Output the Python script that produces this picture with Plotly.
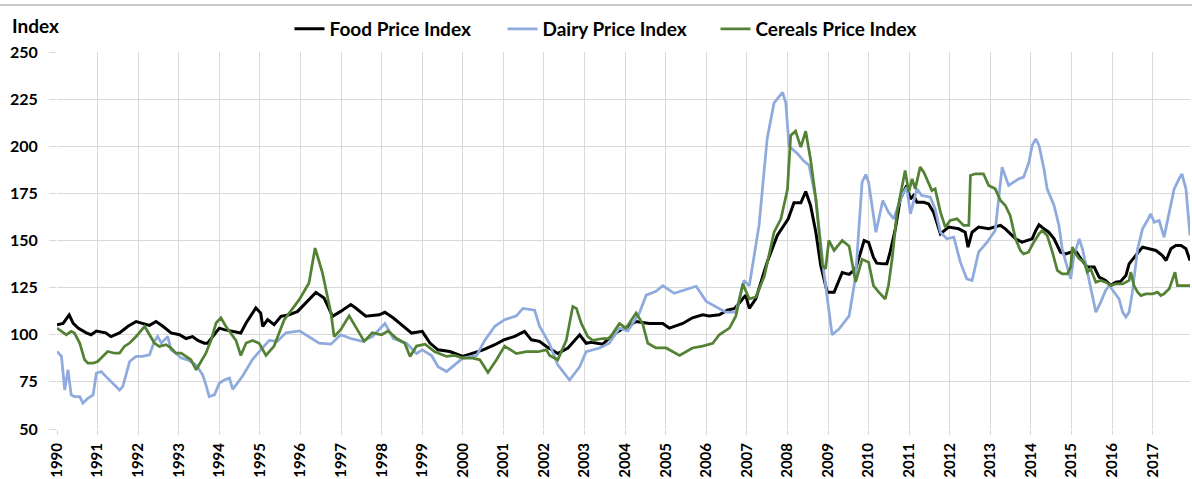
import plotly.graph_objects as go

# time in decimal years
food_t = [1990.0, 1990.15, 1990.3, 1990.4, 1990.52, 1990.72, 1990.84, 1990.97, 1991.2, 1991.33,
          1991.54, 1991.75, 1991.95, 1992.11, 1992.28, 1992.44, 1992.61, 1992.81, 1993.02, 1993.18,
          1993.34, 1993.47, 1993.63, 1993.71, 1993.84, 1994.0, 1994.12, 1994.33, 1994.53, 1994.66,
          1994.9, 1995.02, 1995.07, 1995.19, 1995.35, 1995.52, 1995.72, 1995.93, 1996.13, 1996.38,
          1996.58, 1996.79, 1996.99, 1997.24, 1997.36, 1997.61, 1997.94, 1998.08, 1998.29, 1998.53,
          1998.74, 1999.0, 1999.19, 1999.39, 1999.68, 2000.0, 2000.25, 2000.5, 2000.79, 2001.01,
          2001.28, 2001.52, 2001.69, 2001.89, 2002.06, 2002.34, 2002.59, 2002.88, 2003.04, 2003.16,
          2003.45, 2003.7, 2003.9, 2004.0, 2004.27, 2004.6, 2004.93, 2005.09, 2005.42, 2005.66,
          2005.91, 2006.07, 2006.32, 2006.52, 2006.7, 2006.97, 2007.06, 2007.22, 2007.5, 2007.75,
          2008.02, 2008.16, 2008.33, 2008.45, 2008.57, 2008.7, 2008.82, 2008.98, 2009.15, 2009.35,
          2009.52, 2009.68, 2009.89, 2010.0, 2010.12, 2010.2, 2010.37, 2010.45, 2010.53, 2010.66,
          2010.78, 2010.9, 2010.94, 2011.03, 2011.11, 2011.19, 2011.36, 2011.48, 2011.6, 2011.68,
          2011.77, 2011.97, 2012.22, 2012.38, 2012.45, 2012.55, 2012.71, 2012.96, 2013.25, 2013.37,
          2013.62, 2013.78, 2014.03, 2014.12, 2014.2, 2014.32, 2014.44, 2014.57, 2014.73, 2014.86,
          2014.98, 2015.1, 2015.23, 2015.39, 2015.56, 2015.68, 2015.84, 2015.97, 2016.09, 2016.21,
          2016.34, 2016.42, 2016.58, 2016.75, 2016.91, 2017.08, 2017.24, 2017.33, 2017.45, 2017.57,
          2017.7, 2017.82, 2017.92]
food_v = [105.3, 106, 110.5, 106, 103.5, 101, 100, 102, 101, 99,
          101, 104.5, 107, 106, 105, 107, 104.5, 101, 100, 98,
          99, 97, 95.5, 95.5, 99, 103.5, 102.7, 101.8, 100.9, 106.2,
          114.2, 111.5, 104.4, 108, 105.3, 109.8, 110.6, 112.4, 116.8, 122.5,
          119.5, 109.8, 112.4, 116, 114.2, 109.8, 110.6, 111.9, 108.9, 104.4,
          100.9, 101.8, 95.6, 92, 91.1, 88.5, 90.2, 92, 94.7, 97.3,
          99.1, 101.8, 97.3, 96.5, 93.8, 90, 93, 100, 95.5, 96,
          95, 100, 102.7, 103.5, 107, 106, 106, 103.5, 106, 109,
          110.6, 110, 110.6, 113, 114, 121, 114, 119, 138.5, 152.7,
          161.5, 170, 170, 176, 168.6, 154.4, 136.8, 122.6, 122.6, 133,
          132, 135, 150, 149, 141, 138, 137.6, 137.6, 143.8, 156.2,
          172, 177.4, 179.2, 172, 173.9, 170.3, 170.3, 169.4, 165, 159.7,
          153.5, 157.1, 156.2, 154.4, 146.5, 154.4, 157.1, 156.2, 158, 156.2,
          150.9, 149.1, 150.9, 155.3, 158.3, 156.2, 154.4, 150.9, 143.8, 142.9,
          143.8, 144.7, 140.3, 135.9, 135.9, 130.6, 128.8, 126.1, 127.9, 128.3,
          131.4, 137.6, 142, 146.5, 145.6, 144.7, 142, 139.4, 145.6, 147.3,
          147.3, 145.6, 139.4]

dairy_t = [1990.0, 1990.11, 1990.19, 1990.27, 1990.35, 1990.43, 1990.56, 1990.64, 1990.76, 1990.89,
           1990.97, 1991.09, 1991.21, 1991.34, 1991.42, 1991.54, 1991.62, 1991.79, 1991.95, 1992.11,
           1992.28, 1992.4, 1992.48, 1992.57, 1992.65, 1992.73, 1992.81, 1992.93, 1993.06, 1993.22,
           1993.43, 1993.59, 1993.67, 1993.75, 1993.88, 1994.0, 1994.12, 1994.25, 1994.33, 1994.57,
           1994.82, 1995.02, 1995.23, 1995.43, 1995.64, 1995.98, 1996.21, 1996.46, 1996.75, 1996.99,
           1997.24, 1997.52, 1997.77, 1998.0, 1998.08, 1998.29, 1998.61, 1998.86, 1999.0, 1999.23,
           1999.39, 1999.6, 2000.0, 2000.34, 2000.54, 2000.79, 2001.03, 2001.32, 2001.48, 2001.77,
           2001.89, 2002.14, 2002.34, 2002.63, 2002.88, 2003.04, 2003.37, 2003.61, 2003.86, 2004.07,
           2004.35, 2004.52, 2004.76, 2004.93, 2005.21, 2005.5, 2005.75, 2006.0, 2006.24, 2006.48,
           2006.73, 2006.93, 2007.06, 2007.3, 2007.5, 2007.67, 2007.88, 2007.96, 2008.04, 2008.25,
           2008.41, 2008.53, 2008.7, 2008.9, 2009.1, 2009.27, 2009.52, 2009.68, 2009.84, 2009.93,
           2010.0, 2010.18, 2010.35, 2010.49, 2010.62, 2010.82, 2010.94, 2011.03, 2011.19, 2011.31,
           2011.52, 2011.64, 2011.77, 2011.93, 2012.1, 2012.26, 2012.42, 2012.55, 2012.71, 2012.92,
           2013.12, 2013.29, 2013.45, 2013.7, 2013.82, 2013.95, 2014.03, 2014.12, 2014.2, 2014.32,
           2014.4, 2014.49, 2014.57, 2014.69, 2014.77, 2014.86, 2014.94, 2014.98, 2015.06, 2015.19,
           2015.27, 2015.39, 2015.51, 2015.6, 2015.72, 2015.84, 2015.93, 2016.05, 2016.17, 2016.26,
           2016.34, 2016.42, 2016.5, 2016.63, 2016.75, 2016.87, 2016.95, 2017.04, 2017.16, 2017.28,
           2017.41, 2017.53, 2017.65, 2017.72, 2017.82, 2017.88, 2017.92]
dairy_v = [91.1, 88.5, 70.7, 81.4, 68.1, 67.2, 67.2, 63.7, 66.3, 68.1,
           79.6, 80.5, 77.8, 75.2, 73.4, 70.7, 72.5, 85.8, 88.5, 88.5,
           89.4, 96.5, 99.1, 95.6, 97.3, 99.1, 92, 90.2, 87.6, 86.7,
           84, 78.7, 73.4, 67.2, 68.1, 74.3, 76, 77, 71, 78,
           87, 92, 97, 96.5, 101, 102, 99, 95.5, 95, 100,
           98, 96.5, 99, 104.5, 106, 98, 95.5, 90, 92, 89,
           83, 80.5, 87.6, 89, 97, 104.5, 108, 110, 114, 113,
           104.5, 95, 84, 76, 83, 91, 93, 95.5, 103.5, 102,
           111.5, 121, 123, 126, 122, 124, 125.7, 117.7, 115, 112,
           112, 128.8, 126, 158, 204, 223, 228.6, 223, 200, 196,
           192, 190, 172, 133, 100, 103, 110, 131, 181, 185,
           180.9, 154.4, 171.2, 165, 161.5, 173.9, 178.3, 164.1, 177.4, 173.9,
           173, 166.8, 154.4, 150.9, 151.8, 138.5, 129.7, 128.8, 143.8, 149.1,
           155.3, 188.9, 179.2, 182.7, 183.6, 191.5, 200.4, 203.9, 200.4, 188,
           177.4, 173, 168.6, 158, 145.6, 138.5, 133.2, 129.7, 142, 150.9,
           145.6, 133.2, 120.8, 112, 117.3, 123.5, 126.1, 122.6, 119.1, 112,
           109.4, 112, 122.6, 145.6, 156.2, 160.6, 164.1, 159.7, 160.6, 151.8,
           165, 177.4, 182.7, 185.3, 177.4, 163.3, 152.7]

cereals_t = [1990.0, 1990.11, 1990.23, 1990.35, 1990.43, 1990.56, 1990.68, 1990.76, 1990.89, 1991.0,
             1991.13, 1991.25, 1991.42, 1991.54, 1991.66, 1991.79, 1991.95, 1992.03, 1992.16, 1992.28,
             1992.4, 1992.52, 1992.69, 1992.81, 1992.93, 1993.06, 1993.18, 1993.3, 1993.43, 1993.55,
             1993.67, 1993.8, 1993.92, 1994.04, 1994.16, 1994.41, 1994.53, 1994.66, 1994.82, 1994.98,
             1995.15, 1995.35, 1995.6, 1995.97, 1996.21, 1996.36, 1996.54, 1996.75, 1996.83, 1996.99,
             1997.2, 1997.4, 1997.57, 1997.77, 1998.0, 1998.16, 1998.37, 1998.57, 1998.7, 1998.86,
             1999.07, 1999.31, 1999.6, 1999.8, 2000.0, 2000.25, 2000.42, 2000.62, 2000.83, 2001.03,
             2001.32, 2001.57, 2001.85, 2002.06, 2002.14, 2002.34, 2002.55, 2002.71, 2002.8, 2002.92,
             2003.08, 2003.2, 2003.45, 2003.61, 2003.86, 2004.02, 2004.27, 2004.43, 2004.56, 2004.76,
             2005.01, 2005.34, 2005.66, 2005.91, 2006.16, 2006.32, 2006.57, 2006.73, 2006.9, 2007.06,
             2007.22, 2007.43, 2007.67, 2007.84, 2008.0, 2008.08, 2008.2, 2008.33, 2008.45, 2008.57,
             2008.7, 2008.86, 2008.94, 2009.02, 2009.15, 2009.35, 2009.52, 2009.68, 2009.84, 2010.0,
             2010.12, 2010.25, 2010.41, 2010.49, 2010.58, 2010.7, 2010.78, 2010.9, 2010.99, 2011.07,
             2011.15, 2011.27, 2011.36, 2011.48, 2011.56, 2011.64, 2011.77, 2011.89, 2012.01, 2012.18,
             2012.34, 2012.47, 2012.51, 2012.63, 2012.83, 2012.96, 2013.12, 2013.25, 2013.37, 2013.49,
             2013.62, 2013.74, 2013.82, 2013.94, 2014.07, 2014.2, 2014.28, 2014.4, 2014.53, 2014.65,
             2014.77, 2014.9, 2014.98, 2015.02, 2015.1, 2015.19, 2015.31, 2015.39, 2015.47, 2015.6,
             2015.72, 2015.84, 2015.97, 2016.09, 2016.26, 2016.42, 2016.46, 2016.54, 2016.63, 2016.71,
             2016.83, 2017.0, 2017.12, 2017.2, 2017.28, 2017.41, 2017.49, 2017.55, 2017.61, 2017.74,
             2017.92]
cereals_v = [103.5, 101.8, 100, 101.8, 100.9, 95.6, 86.7, 84.9, 84.9, 85.8,
             88.5, 91.1, 90.2, 90.2, 93.8, 95.6, 99.1, 100.9, 104.4, 100,
             95.6, 93.8, 94.7, 92.9, 90.2, 90.2, 88.5, 86.7, 81.4, 85.8,
             90.2, 97.3, 106.2, 109, 104.5, 97, 89, 95.6, 97, 95.5,
             89, 94, 108, 118.6, 127.5, 146, 133, 111.5, 99, 102.7,
             110, 102.7, 96.5, 101, 100, 102, 98, 95.5, 88.5, 94,
             95, 91, 88.5, 89, 87.6, 87.6, 86.7, 80, 86.7, 94,
             90, 91, 91, 92, 89, 86.7, 97, 115, 114, 106,
             99, 97, 98, 98, 106, 103.5, 111.5, 106, 95.5, 93,
             93, 89, 93, 94, 95.5, 100, 103.5, 110, 127, 119,
             120, 131, 154.4, 161.5, 177, 205.7, 208, 199.5, 208, 193,
             172, 136.8, 135, 150, 144.7, 150, 147, 128, 140, 138.5,
             126.1, 122.6, 119, 126.1, 140.3, 164.9, 173.9, 187.1, 175.7, 182.7,
             177.4, 188.9, 186.2, 180, 176.5, 177.4, 165, 157.1, 160.6, 161.5,
             158, 158, 184.5, 185.4, 185.4, 179.2, 177.4, 171.2, 168.6, 163.2,
             150.9, 144.7, 142.9, 143.8, 149.1, 153.5, 155.3, 152.7, 143.8, 134.1,
             132.3, 132.3, 135.9, 146.5, 142.9, 140.3, 138.5, 133.2, 135, 127.9,
             128.8, 127.9, 126.1, 127, 127, 128.8, 133.2, 126.1, 122.6, 120.8,
             121.7, 121.7, 122.6, 120.8, 121.7, 124.4, 129.7, 133.2, 126.1, 126.1,
             126.1]

years = list(range(1990, 2018))

font_name = "Lato"
grid_col = "#d9d9d9"

fig = go.Figure()
fig.add_trace(go.Scatter(x=food_t, y=food_v, mode="lines", name="Food Price Index",
                         line=dict(color="#000000", width=3)))
fig.add_trace(go.Scatter(x=dairy_t, y=dairy_v, mode="lines", name="Dairy Price Index",
                         line=dict(color="#8FAADC", width=2.75)))
fig.add_trace(go.Scatter(x=cereals_t, y=cereals_v, mode="lines", name="Cereals Price Index",
                         line=dict(color="#548235", width=2.75)))

fig.update_layout(
    width=1192,
    height=479,
    margin=dict(l=57, r=2, t=52, b=50),
    plot_bgcolor="white",
    paper_bgcolor="white",
    font=dict(family=font_name, size=16, color="#000000"),
    showlegend=True,
    legend=dict(orientation="h", x=(609 - 57) / 1133, xanchor="center", y=1.061, yanchor="middle",
                font=dict(family=font_name, size=19, color="#000000", weight="bold"),
                bgcolor="rgba(0,0,0,0)", itemwidth=30, entrywidth=168),
)

fig.update_xaxes(
    range=[1990, 2017.92],
    tickmode="array",
    tickvals=years,
    ticktext=[str(y) for y in years],
    tickangle=-90,
    tickfont=dict(family=font_name, size=15, weight="bold"),
    showgrid=True,
    gridcolor=grid_col,
    gridwidth=1,
    zeroline=False,
    showline=False,
    ticks="outside",
    ticklen=5,
    tickcolor=grid_col,
    ticklabelstandoff=2,
    automargin=False,
)
fig.update_yaxes(
    range=[50, 250],
    dtick=25,
    tick0=50,
    tickfont=dict(family=font_name, size=16, weight="bold"),
    showgrid=True,
    gridcolor=grid_col,
    gridwidth=1,
    zeroline=False,
    showline=False,
    ticks="outside",
    ticklen=7,
    tickcolor=grid_col,
    ticklabelstandoff=8,
    automargin=False,
)

fig.add_annotation(
    text="<b>Index</b>", x=-0.0415, y=1.0716, xref="paper", yref="paper",
    xanchor="left", yanchor="middle", showarrow=False,
    font=dict(family=font_name, size=19, color="#000000"),
)

# thin frame line across the top of the picture
fig.add_shape(type="line", xref="paper", yref="paper",
              x0=-57 / 1133, x1=1 + 2 / 1133, y0=1 + 47 / 377, y1=1 + 47 / 377,
              line=dict(color="#c8c8c8", width=2))

# the page body has an 8px default margin; drop it so the figure sits at 0,0
fig.write_html("out.html", config={"displayModeBar": False},
               post_script="document.body.style.margin='0';")
